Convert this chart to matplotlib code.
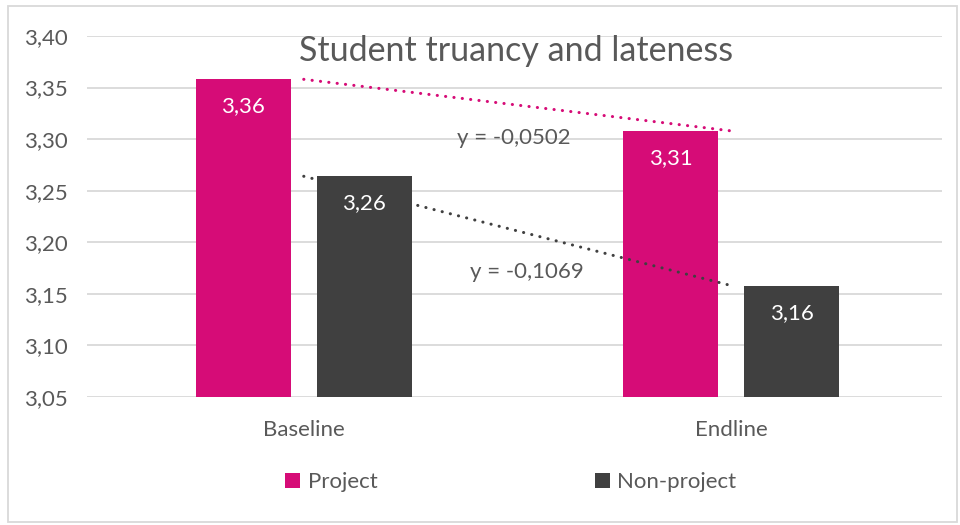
import numpy as np
import matplotlib.pyplot as plt
from matplotlib.patches import Rectangle
from matplotlib.ticker import FuncFormatter

plt.rcParams['font.family'] = ['Lato', 'DejaVu Sans']

categories = ['Baseline', 'Endline']
project = [3.358, 3.308]
non_project = [3.264, 3.158]
series_names = ['Project', 'Non-project']
trend_labels = ['y = -0,0502', 'y = -0,1069']
title = 'Student truancy and lateness'

pink = '#D60C77'
dark = '#404040'
text_col = '#595959'
grid_col = '#D9D9D9'

fig = plt.figure(figsize=(9.6, 5.25), dpi=100)
ax = fig.add_axes([87 / 960, 1 - 397 / 525, 855 / 960, 361 / 525])

x = np.arange(len(categories))
w = 0.222
off = 0.1415

b1 = ax.bar(x - off, project, w, color=pink, label=series_names[0], zorder=3)
b2 = ax.bar(x + off, non_project, w, color=dark, label=series_names[1], zorder=3)

for bars, vals in [(b1, project), (b2, non_project)]:
    for rect, v in zip(bars, vals):
        ax.annotate(f'{v:.2f}'.replace('.', ','),
                    (rect.get_x() + rect.get_width() / 2, v),
                    xytext=(0, -19.5), textcoords='offset points',
                    ha='center', va='center', color='white', fontsize=16, zorder=4)

# linear trendlines at category centres, like Excel does
for vals, col in [(project, pink), (non_project, dark)]:
    k, c = np.polyfit(x, vals, 1)
    ax.plot(x, k * x + c, color=col, linestyle=(0, (0.05, 2.7)), linewidth=2.2,
            dash_capstyle='round', zorder=5)

ax.text(0.492, 3.301, trend_labels[0], color=text_col, fontsize=16, ha='center', va='center')
ax.text(0.522, 3.171, trend_labels[1], color=text_col, fontsize=16, ha='center', va='center')

ax.set_xlim(-0.507, 1.493)
ax.set_ylim(3.05, 3.40)
ax.set_yticks(np.arange(3.05, 3.401, 0.05))
ax.yaxis.set_major_formatter(FuncFormatter(lambda v, p: f'{v:.2f}'.replace('.', ',')))
ax.set_xticks(x)
ax.set_xticklabels(categories)
ax.tick_params(length=0, labelsize=16, colors=text_col)
ax.tick_params(axis='x', pad=16.5)
ax.tick_params(axis='y', pad=13.5)
ax.grid(axis='y', color=grid_col, linewidth=1.3, zorder=0)
for s in ax.spines.values():
    s.set_visible(False)

fig.text(516 / 960, 1 - 51 / 525, title, ha='center', va='center', fontsize=24.5, color=text_col)

leg = fig.legend(loc='center', bbox_to_anchor=(511 / 960, 1 - 482 / 525), ncol=2, frameon=False,
                 fontsize=16, handlelength=0.65, handleheight=0.65, handletextpad=0.35,
                 columnspacing=9.8, labelcolor=text_col)

fig.patches.append(Rectangle((8 / 960, 3 / 525), 949 / 960, 516 / 525, transform=fig.transFigure,
                             fill=False, edgecolor=grid_col, linewidth=1.3))

fig.savefig('out.png', dpi=100)
